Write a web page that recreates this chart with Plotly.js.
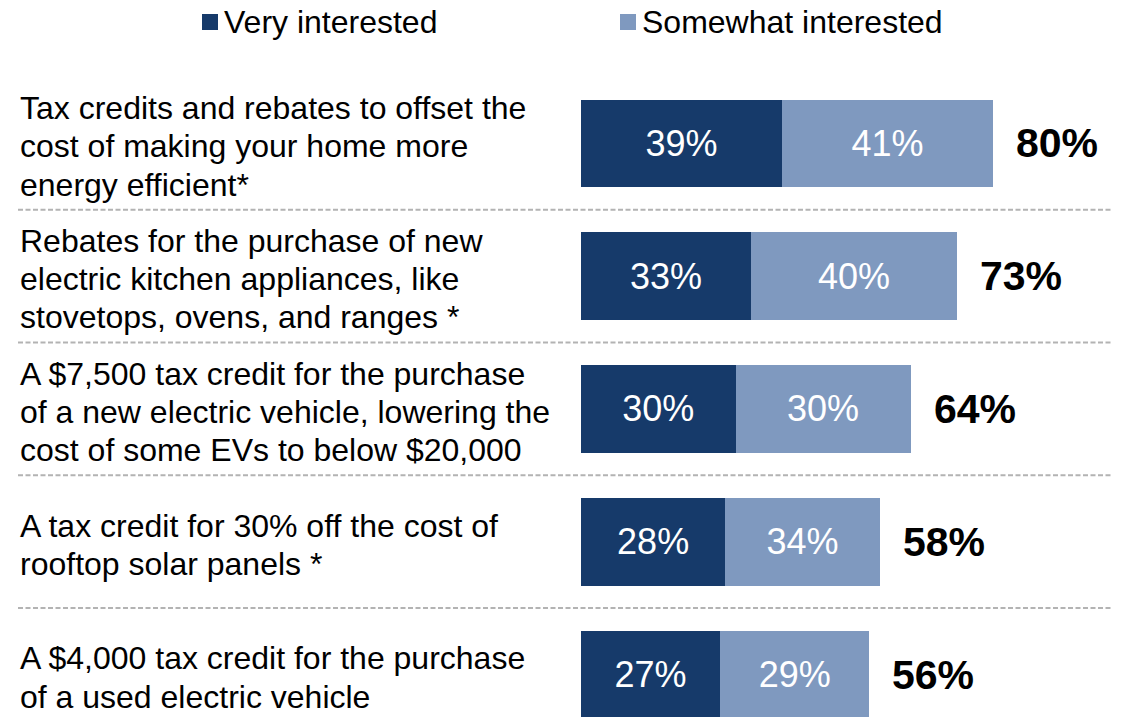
<!DOCTYPE html>
<html>
<head>
<meta charset="utf-8">
<script src="https://cdn.plot.ly/plotly-3.0.1.min.js"></script>
<style>html,body{margin:0;padding:0;background:#fff;}#chart{width:1127px;height:717px;}</style>
</head>
<body>
<div id="chart"></div>
<script>
const categories = [
  "Tax credits and rebates to offset the<br>cost of making your home more<br>energy efficient*",
  "Rebates for the purchase of new<br>electric kitchen appliances, like<br>stovetops, ovens, and ranges *",
  "A $7,500 tax credit for the purchase<br>of a new electric vehicle, lowering the<br>cost of some EVs to below $20,000",
  "A tax credit for 30% off the cost of<br>rooftop solar panels *",
  "A $4,000 tax credit for the purchase<br>of a used electric vehicle"
];
const veryInterested = [39, 33, 30, 28, 27];
const somewhatInterested = [41, 40, 34, 30, 29];
const veryLabels = ["39%", "33%", "30%", "28%", "27%"];
const somewhatLabels = ["41%", "40%", "30%", "34%", "29%"];
const totalLabels = ["80%", "73%", "64%", "58%", "56%"];
const seriesNames = ["Very interested", "Somewhat interested"];

const DARK = "#163a6a", LIGHT = "#7f99bf";
const FONT = "Liberation Sans, Arial, sans-serif";
const W = 1127, H = 717, ML = 581, MT = 77, MR = 0, MB = 0;
const PW = W - ML - MR, PH = H - MT - MB;
const px = x => (x - ML) / PW;
const py = y => 1 - (y - MT) / PH;

const ids = categories.map((c, i) => "c" + i);

const traces = [
  {type: "bar", orientation: "h", name: seriesNames[0], y: ids, x: veryInterested,
   text: veryLabels, textposition: "inside", insidetextanchor: "middle", texttemplate: "%{text}",
   textfont: {family: FONT, size: 36, color: "#ffffff"}, marker: {color: DARK, line: {width: 0}},
   width: 0.66, hoverinfo: "skip", cliponaxis: false},
  {type: "bar", orientation: "h", name: seriesNames[1], y: ids, x: somewhatInterested,
   text: somewhatLabels, textposition: "inside", insidetextanchor: "middle", texttemplate: "%{text}",
   textfont: {family: FONT, size: 36, color: "#ffffff"}, marker: {color: LIGHT, line: {width: 0}},
   width: 0.66, hoverinfo: "skip", cliponaxis: false}
];

const annotations = [];
const shapes = [];

// legend
const legendItems = [{name: seriesNames[0], color: DARK, x: 202}, {name: seriesNames[1], color: LIGHT, x: 620}];
legendItems.forEach(it => {
  shapes.push({type: "rect", xref: "paper", yref: "paper", x0: px(it.x), x1: px(it.x + 16), y0: py(30), y1: py(14),
    fillcolor: it.color, line: {width: 0}});
  annotations.push({xref: "paper", yref: "paper", x: px(it.x + 20), y: py(22), xanchor: "left", yanchor: "middle",
    showarrow: false, text: it.name, font: {family: FONT, size: 32, color: "#000"}});
});

// category labels (one annotation per line for tight line spacing)
categories.forEach((c, i) => {
  const lines = c.split("<br>");
  lines.forEach((ln, j) => {
    const off = 3 + (j - (lines.length - 1) / 2) * 38.3;
    annotations.push({xref: "paper", yref: "y", x: px(18), y: ids[i], yshift: -off, xanchor: "left", yanchor: "middle",
      showarrow: false, text: ln, font: {family: FONT, size: 32, color: "#000"}});
  });
  // totals
  annotations.push({xref: "x", yref: "y", x: veryInterested[i] + somewhatInterested[i], y: ids[i], xanchor: "left",
    yanchor: "middle", xshift: 21, showarrow: false, text: "<b>" + totalLabels[i] + "</b>",
    font: {family: FONT, size: 41, color: "#000"}});
});

// dashed separators between rows
for (let i = 0; i < categories.length - 1; i++) {
  shapes.push({type: "line", xref: "paper", yref: "y", x0: px(18), x1: px(1112), y0: i + 0.5, y1: i + 0.5,
    line: {color: "#b3b3b3", width: 2, dash: "5px,2.5px"}});
}

const layout = {
  width: W, height: H, margin: {l: ML, r: MR, t: MT, b: MB, pad: 0},
  paper_bgcolor: "#fff", plot_bgcolor: "#fff",
  barmode: "stack", bargap: 0, showlegend: false,
  font: {family: FONT},
  xaxis: {range: [0, 106], visible: false, fixedrange: true},
  yaxis: {type: "category", categoryarray: ids, range: [4.32, -0.5], visible: false, fixedrange: true},
  annotations: annotations, shapes: shapes,
  uniformtext: {mode: false}
};

Plotly.newPlot("chart", traces, layout, {displayModeBar: false, staticPlot: true});
</script>
</body>
</html>
